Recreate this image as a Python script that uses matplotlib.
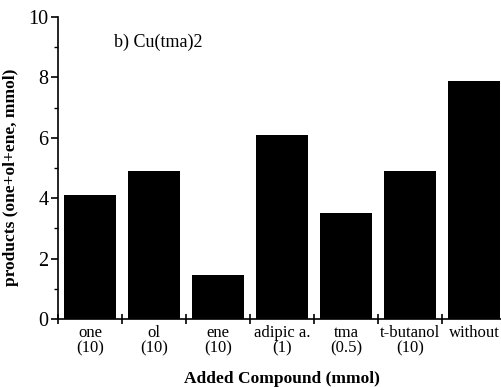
import numpy as np
import matplotlib
matplotlib.use('Agg')
import matplotlib.pyplot as plt

# data
categories = ['one\n(10)', 'ol\n(10)', 'ene\n(10)', 'adipic a.\n(1)', 'tma\n(0.5)', 't-butanol\n(10)', 'without']
products = [4.1, 4.9, 1.45, 6.1, 3.5, 4.9, 7.87]

plt.rcParams['font.family'] = ['Liberation Serif', 'DejaVu Serif']

fig = plt.figure(figsize=(5.02, 3.87), dpi=100)
ax = fig.add_axes([58/502, 68/387, 448/502, 302/387])

x = np.arange(len(categories))
ax.bar(x, products, width=0.8, color='black', edgecolor='none')

ax.set_xlim(-0.5, len(categories) - 0.5)
ax.set_ylim(0, 10)

ax.spines['top'].set_visible(False)
ax.spines['right'].set_visible(False)
ax.spines['left'].set_linewidth(1.2)
ax.spines['bottom'].set_linewidth(1.2)

# y ticks
ax.set_yticks([0, 2, 4, 6, 8, 10])
ax.set_yticks([1, 3, 5, 7, 9], minor=True)
ax.tick_params(axis='y', which='major', direction='out', length=5, width=1.2, labelsize=14.5, pad=2)
ax.tick_params(axis='y', which='minor', direction='out', length=3, width=1.0)

# x ticks: crosses at the boundaries, labels at the centres
ax.set_xticks(np.arange(len(categories)) - 0.5)
ax.set_xticklabels([])
ax.set_xticks(x, minor=True)
ax.set_xticklabels(categories, minor=True, linespacing=0.95)
ax.tick_params(axis='x', which='major', direction='inout', length=7, width=1.2)
ax.tick_params(axis='x', which='minor', length=0, labelsize=12, pad=4)

ax.text(0.125, 0.9, 'b) Cu(tma)2', transform=ax.transAxes, fontsize=13)

ax.set_ylabel('products (one+ol+ene, mmol)', fontsize=12.5, fontweight='bold')
ax.yaxis.set_label_coords(-0.088, 0.47)
ax.set_xlabel('Added Compound (mmol)', fontsize=12.5, fontweight='bold', labelpad=11)

fig.savefig('out.png', dpi=100)
